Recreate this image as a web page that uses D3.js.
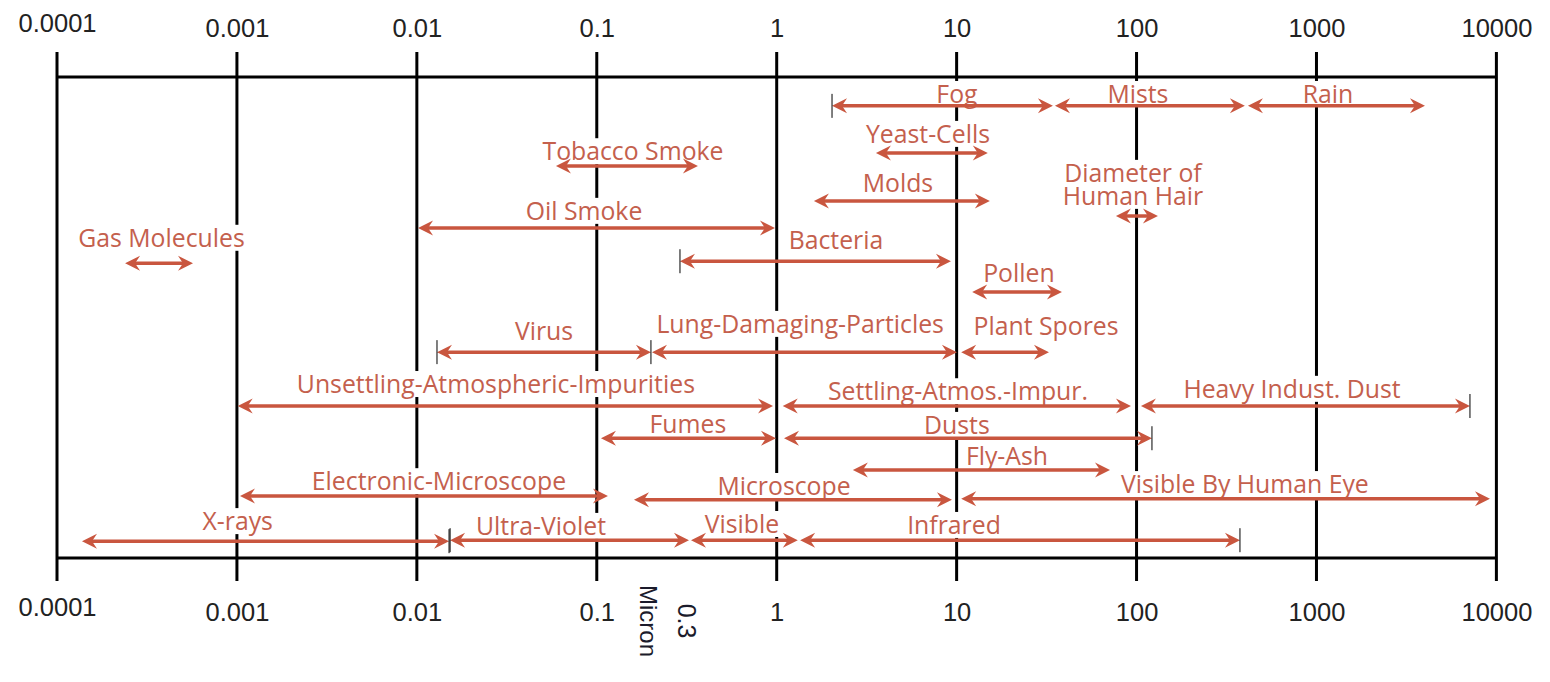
<!DOCTYPE html>
<html>
<head>
<meta charset="utf-8">
<script src="https://cdn.jsdelivr.net/npm/d3@7"></script>
<style>
  html, body { margin: 0; padding: 0; background: #ffffff; }
  svg { display: block; }
</style>
</head>
<body>
<svg id="chart" width="1550" height="682"></svg>
<script>
// ---------------- data ----------------
const tickValues = [0.0001, 0.001, 0.01, 0.1, 1, 10, 100, 1000, 10000];
const tickLabels = ["0.0001", "0.001", "0.01", "0.1", "1", "10", "100", "1000", "10000"];

// particle / range names
const names = [
  "Fog", "Mists", "Rain", "Yeast-Cells", "Tobacco Smoke", "Molds",
  "Diameter of|Human Hair", "Oil Smoke", "Gas Molecules", "Bacteria", "Pollen",
  "Virus", "Lung-Damaging-Particles", "Plant Spores",
  "Unsettling-Atmospheric-Impurities", "Settling-Atmos.-Impur.", "Heavy Indust. Dust",
  "Fumes", "Dusts", "Fly-Ash", "Electronic-Microscope", "Microscope",
  "Visible By Human Eye", "X-rays", "Ultra-Violet", "Visible", "Infrared"
];
// size range start / end (micron)
const rangeFrom = [2.03, 35.2, 416, 3.56, 0.0593, 1.61, 76.8, 0.01015, 0.000239, 0.29, 12.2,
  0.01294, 0.2027, 10.6, 0.00101, 1.08, 105.8, 0.1055, 1.098, 2.65, 0.00104, 0.161, 10.6,
  0.0001377, 0.0153, 0.334, 1.35];
const rangeTo = [34.3, 400, 4009, 14.9, 0.365, 15.3, 131.5, 0.978, 0.00057, 9.3, 38.5,
  0.2, 10.04, 32.6, 0.954, 93.1, 7130, 0.991, 121.8, 71.2, 0.1154, 9.42, 9210,
  0.0151, 0.3255, 1.31, 375.6];
// label centre (micron)
const labelAt = [10.04, 101.8, 1158, 6.93, 0.159, 4.72, 95.5, 0.0849, 0.000381, 2.135, 22.2,
  0.0509, 1.35, 31.4, 0.0275, 10.17, 731, 0.321, 10.04, 19.05, 0.01327, 1.098, 400,
  0.00101, 0.049, 0.641, 9.67];
// vertical lane of the arrow and of the label (0 = top frame line, 100 = bottom frame line)
const arrowLane = [6.0, 6.0, 6.0, 15.8, 18.5, 25.8, 28.9, 31.4, 38.7, 38.3, 44.7,
  57.2, 57.2, 57.2, 68.4, 68.4, 68.4, 75.1, 75.1, 81.7, 87.1, 87.9, 87.7,
  96.5, 96.3, 96.3, 96.3];
const labelLane = [5.4, 5.4, 5.4, 13.7, 17.3, 23.9, 21.8, 29.7, 35.3, 35.8, 42.6,
  54.7, 53.2, 53.6, 65.7, 67.2, 66.7, 74.0, 74.2, 80.7, 85.9, 86.9, 86.5,
  94.2, 95.2, 94.8, 95.0];
// ends that carry a thin limit bar
const barFrom = [1, 0, 0, 0, 0, 0, 0, 0, 0, 1, 0, 1, 0, 0, 0, 0, 0, 0, 0, 0, 0, 0, 0, 0, 1, 0, 0];
const barTo   = [0, 0, 0, 0, 0, 0, 0, 0, 0, 0, 0, 1, 0, 0, 0, 0, 1, 0, 1, 0, 0, 0, 0, 1, 0, 0, 1];

const axisUnit = "Micron";
const axisMark = "0.3";

// ---------------- drawing ----------------
const svg = d3.select("#chart");
const x = d3.scaleLog().domain([0.0001, 10000]).range([57, 1496.4]);
const y = d3.scaleLinear().domain([0, 100]).range([77, 558]);

const arrowColor = "#c9563f";
const textColor = "#c4604d";
const gridTop = 52, gridBottom = 581;

// vertical grid lines
svg.append("g").selectAll("line").data(tickValues).join("line")
  .attr("x1", d => x(d)).attr("x2", d => x(d))
  .attr("y1", gridTop).attr("y2", gridBottom)
  .attr("stroke", "#000").attr("stroke-width", 3);

// frame lines top and bottom
svg.append("g").selectAll("line").data([0, 100]).join("line")
  .attr("x1", x(0.0001)).attr("x2", x(10000))
  .attr("y1", d => y(d)).attr("y2", d => y(d))
  .attr("stroke", "#000").attr("stroke-width", 3);

// tick labels via axes (lines hidden)
const axTop = d3.axisTop(x).tickValues(tickValues).tickFormat((d, i) => tickLabels[i]).tickSize(0).tickPadding(0);
const axBot = d3.axisBottom(x).tickValues(tickValues).tickFormat((d, i) => tickLabels[i]).tickSize(0).tickPadding(0);
const gt = svg.append("g").attr("transform", "translate(0,37)").call(axTop);
const gb = svg.append("g").attr("transform", "translate(0,621)").call(axBot);
[gt, gb].forEach(g => {
  g.select(".domain").remove();
  g.selectAll("text")
    .attr("font-family", "'Liberation Sans', Arial, sans-serif")
    .attr("font-size", 25.5)
    .attr("fill", "#222")
    .attr("dy", 0);
});
gt.selectAll(".tick text").attr("y", (d, i) => i === 0 ? -5 : 0);
gb.selectAll(".tick text").attr("y", (d, i) => i === 0 ? -5 : 0);

// rotated unit text
svg.append("text").text(axisUnit)
  .attr("transform", `translate(${x(0.1) + 52},621) rotate(90)`)
  .attr("text-anchor", "middle").attr("dominant-baseline", "central")
  .attr("font-family", "'Liberation Sans', Arial, sans-serif").attr("font-size", 24)
  .attr("fill", "#1b1b2b");
svg.append("text").text(axisMark)
  .attr("transform", `translate(${x(0.3) + 4},621) rotate(90)`)
  .attr("text-anchor", "middle").attr("dominant-baseline", "central")
  .attr("font-family", "'Liberation Sans', Arial, sans-serif").attr("font-size", 25)
  .attr("fill", "#1b1b2b");

const items = names.map((n, i) => ({
  name: n, from: rangeFrom[i], to: rangeTo[i], at: labelAt[i],
  lane: arrowLane[i], llane: labelLane[i], bf: barFrom[i], bt: barTo[i]
}));

// labels with white backgrounds
const labG = svg.append("g");
const lineGap = 23;
items.forEach(d => {
  const lines = d.name.split("|");
  const g = labG.append("g");
  const bg = g.append("rect").attr("fill", "#fff");
  const t = g.append("text")
    .attr("font-family", "'Open Sans', sans-serif")
    .attr("font-size", 24.8)
    .attr("fill", textColor)
    .attr("text-anchor", "middle");
  lines.forEach((ln, k) => {
    t.append("tspan").attr("x", x(d.at)).attr("y", y(d.llane) + k * lineGap).text(ln);
  });
  const bb = t.node().getBBox();
  const top = y(d.llane) - 22;
  const bottom = y(d.llane) + (lines.length - 1) * lineGap + 4;
  bg.attr("x", bb.x - 3).attr("width", bb.width + 6)
    .attr("y", top).attr("height", bottom - top);
});

// arrows
const arrG = svg.append("g");
const headLen = 15, headHalf = 7.5, notch = 10;
items.forEach(d => {
  const x1 = x(d.from), x2 = x(d.to), yy = y(d.lane);
  arrG.append("line")
    .attr("x1", x1 + notch - 1).attr("x2", x2 - notch + 1)
    .attr("y1", yy).attr("y2", yy)
    .attr("stroke", arrowColor).attr("stroke-width", 3.5);
  arrG.append("path")
    .attr("d", `M${x2},${yy} L${x2 - headLen},${yy - headHalf} L${x2 - notch},${yy} L${x2 - headLen},${yy + headHalf} Z`)
    .attr("fill", arrowColor);
  arrG.append("path")
    .attr("d", `M${x1},${yy} L${x1 + headLen},${yy - headHalf} L${x1 + notch},${yy} L${x1 + headLen},${yy + headHalf} Z`)
    .attr("fill", arrowColor);
  if (d.bf) arrG.append("line").attr("x1", x1).attr("x2", x1).attr("y1", yy - 12).attr("y2", yy + 12)
    .attr("stroke", "#000").attr("stroke-width", 1);
  if (d.bt) arrG.append("line").attr("x1", x2).attr("x2", x2).attr("y1", yy - 12).attr("y2", yy + 12)
    .attr("stroke", "#000").attr("stroke-width", 1);
});
</script>
</body>
</html>
